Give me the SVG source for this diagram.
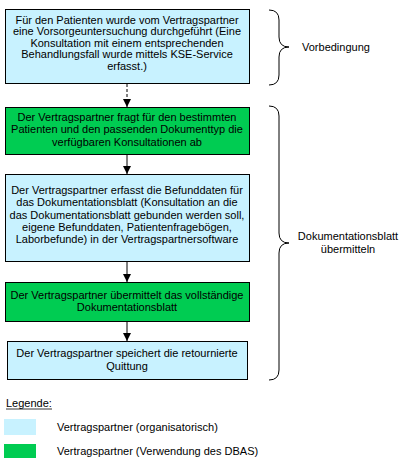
<svg xmlns="http://www.w3.org/2000/svg" width="400" height="466" viewBox="0 0 400 466">
<style>
text{font-family:"Liberation Sans",Arial,sans-serif;font-size:11px;fill:#000}
.c{text-anchor:middle}
.blue{fill:#C8F2FF;stroke:#000;stroke-width:1}
.green{fill:#00CC52;stroke:#000;stroke-width:1}
.line{stroke:#000;stroke-width:1;fill:none}
.brace{stroke:#000;stroke-width:1;fill:none}
</style>
<defs>
<marker id="ah" viewBox="0 0 8 8" refX="8" refY="4" markerWidth="8" markerHeight="8" markerUnits="userSpaceOnUse" orient="auto">
<path d="M0,0 L8,4 L0,8 z" fill="#000"/>
</marker>
</defs>
<rect width="400" height="466" fill="#fff"/>
<g id="connectors">
<line class="line" x1="127" y1="84" x2="127" y2="107" stroke-dasharray="3,2" marker-end="url(#ah)"/>
<line class="line" x1="127" y1="155" x2="127" y2="174" marker-end="url(#ah)"/>
<line class="line" x1="127" y1="262" x2="127" y2="282" marker-end="url(#ah)"/>
<line class="line" x1="127" y1="322" x2="127" y2="341" marker-end="url(#ah)"/>
</g>
<g id="n1">
<rect class="blue" x="5.5" y="9.5" width="244" height="74"/>
<text class="c" x="127" y="23.5">Für den Patienten wurde vom Vertragspartner</text>
<text class="c" x="127" y="35">eine Vorsorgeuntersuchung durchgeführt (Eine</text>
<text class="c" x="127" y="46.5">Konsultation mit einem entsprechenden</text>
<text class="c" x="127" y="58">Behandlungsfall wurde mittels KSE-Service</text>
<text class="c" x="127" y="69.5">erfasst.)</text>
</g>
<g id="n2">
<rect class="green" x="5.5" y="107.5" width="244" height="47"/>
<text class="c" x="127" y="120.5">Der Vertragspartner fragt für den bestimmten</text>
<text class="c" x="127" y="133">Patienten und den passenden Dokumenttyp die</text>
<text class="c" x="127" y="145.5">verfügbaren Konsultationen ab</text>
</g>
<g id="n3">
<rect class="blue" x="5.5" y="174.5" width="244" height="87"/>
<text class="c" x="127" y="194">Der Vertragspartner erfasst die Befunddaten für</text>
<text class="c" x="127" y="206.3">das Dokumentationsblatt (Konsultation an die</text>
<text class="c" x="127" y="218.6">das Dokumentationsblatt gebunden werden soll,</text>
<text class="c" x="127" y="230.9">eigene Befunddaten, Patientenfragebögen,</text>
<text class="c" x="127" y="243.2">Laborbefunde) in der Vertragspartnersoftware</text>
</g>
<g id="n4">
<rect class="green" x="5.5" y="282.5" width="244" height="39"/>
<text class="c" x="127" y="298.5">Der Vertragspartner übermittelt das vollständige</text>
<text class="c" x="127" y="311">Dokumentationsblatt</text>
</g>
<g id="n5">
<rect class="blue" x="7.5" y="341.5" width="240" height="38"/>
<text class="c" x="127" y="357">Der Vertragspartner speichert die retournierte</text>
<text class="c" x="127" y="370">Quittung</text>
</g>
<g id="brace1">
<path class="brace" d="M269,10 Q279,10 279,20 L279,37 Q279,47 289,47 Q279,47 279,57 L279,75 Q279,85 269,85"/>
<text x="302" y="51">Vorbedingung</text>
</g>
<g id="brace2">
<path class="brace" d="M269,106 Q279,106 279,116 L279,233 Q279,243 289,243 Q279,243 279,253 L279,370 Q279,380 269,380"/>
<text class="c" x="348" y="240">Dokumentationsblatt</text>
<text class="c" x="348" y="253">übermitteln</text>
</g>
<g id="legend">
<text x="6" y="407">Legende:</text>
<line x1="6" y1="409" x2="52" y2="409" stroke="#000" stroke-width="0.8"/>
<rect x="4" y="419" width="32" height="16" fill="#C8F2FF"/>
<text x="57" y="430.5">Vertragspartner (organisatorisch)</text>
<rect x="4" y="444" width="32" height="14" fill="#00CC52"/>
<text x="57" y="454.5">Vertragspartner (Verwendung des DBAS)</text>
</g>
</svg>
